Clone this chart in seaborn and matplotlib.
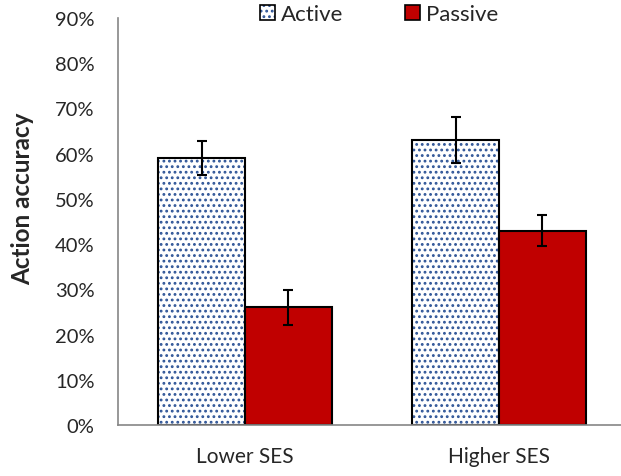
import numpy as np
import pandas as pd
import matplotlib
matplotlib.use("Agg")
import matplotlib.pyplot as plt
import matplotlib.colors as mcolors
from matplotlib.patches import Patch
from matplotlib.ticker import FuncFormatter
import seaborn as sns

groups = ["Lower SES", "Higher SES"]
conditions = ["Active", "Passive"]
active_acc = [0.59, 0.63]
passive_acc = [0.26, 0.43]
active_err = [0.038, 0.050]
passive_err = [0.039, 0.034]

df = pd.DataFrame({
    "group": groups * 2,
    "condition": [conditions[0]] * 2 + [conditions[1]] * 2,
    "acc": active_acc + passive_acc,
})
errs = [active_err, passive_err]

sns.set_style("white")
plt.rcParams["font.family"] = ["Lato", "DejaVu Sans"]
plt.rcParams["hatch.linewidth"] = 1.25

fig = plt.figure(figsize=(6.21, 4.77), dpi=100)
ax = fig.add_axes([118 / 621, 51 / 477, 508 / 621, 407 / 477])

dot_blue = "#2F5597"
red = "#C00000"
sns.barplot(data=df, x="group", y="acc", hue="condition", order=groups,
            hue_order=conditions, palette={"Active": "white", "Passive": red},
            saturation=1, width=0.685, gap=0, errorbar=None,
            edgecolor="black", linewidth=1.5, ax=ax, legend=False)


def blue_hatch(p):
    p.set_hatch("...")
    if hasattr(p, "set_hatchcolor"):
        p.set_hatchcolor(dot_blue)
    else:
        p._hatch_color = mcolors.to_rgba(dot_blue)


for p in ax.containers[0]:
    blue_hatch(p)

for cont, err in zip(ax.containers, errs):
    xs = [p.get_x() + p.get_width() / 2 for p in cont]
    ys = [p.get_height() for p in cont]
    ax.errorbar(xs, ys, yerr=err, fmt="none", ecolor="black",
                elinewidth=1.5, capsize=3.6, capthick=1.5)

ax.set_ylim(0, 0.9)
ax.set_yticks(np.arange(0, 0.91, 0.1))
ax.yaxis.set_major_formatter(FuncFormatter(lambda v, _: f"{v * 100:.0f}%"))
ax.set_xlim(-0.5, 1.5)
ax.set_xticks([-0.5, 0.5, 1.5])
ax.set_xticklabels([])
ax.set_xticks([0, 1], minor=True)
ax.set_xticklabels(groups, minor=True)
ax.tick_params(axis="x", which="minor", length=0, pad=15, labelsize=15)
ax.tick_params(axis="x", which="major", length=6, width=1,
               color="#868686", direction="out")
ax.tick_params(axis="y", length=6, width=1, color="#868686",
               direction="out", pad=11, labelsize=14.5)

for s in ["top", "right"]:
    ax.spines[s].set_visible(False)
for s in ["left", "bottom"]:
    ax.spines[s].set_color("#868686")
    ax.spines[s].set_linewidth(1.2)

ax.set_xlabel("")
ax.set_ylabel("Action accuracy", fontsize=17.5, fontweight="bold")
ax.yaxis.set_label_coords(-0.165, 0.558)

h_active = Patch(facecolor="white", edgecolor="black", linewidth=1.2)
blue_hatch(h_active)
h_passive = Patch(facecolor=red, edgecolor="black", linewidth=1.2)
fig.legend([h_active, h_passive], conditions, loc="center",
           bbox_to_anchor=(379 / 621, 1 - 15 / 477), ncol=2, frameon=False,
           fontsize=16, handlelength=0.68, handleheight=0.68,
           handletextpad=0.27, columnspacing=2.75)

fig.savefig("out.png", dpi=100)
